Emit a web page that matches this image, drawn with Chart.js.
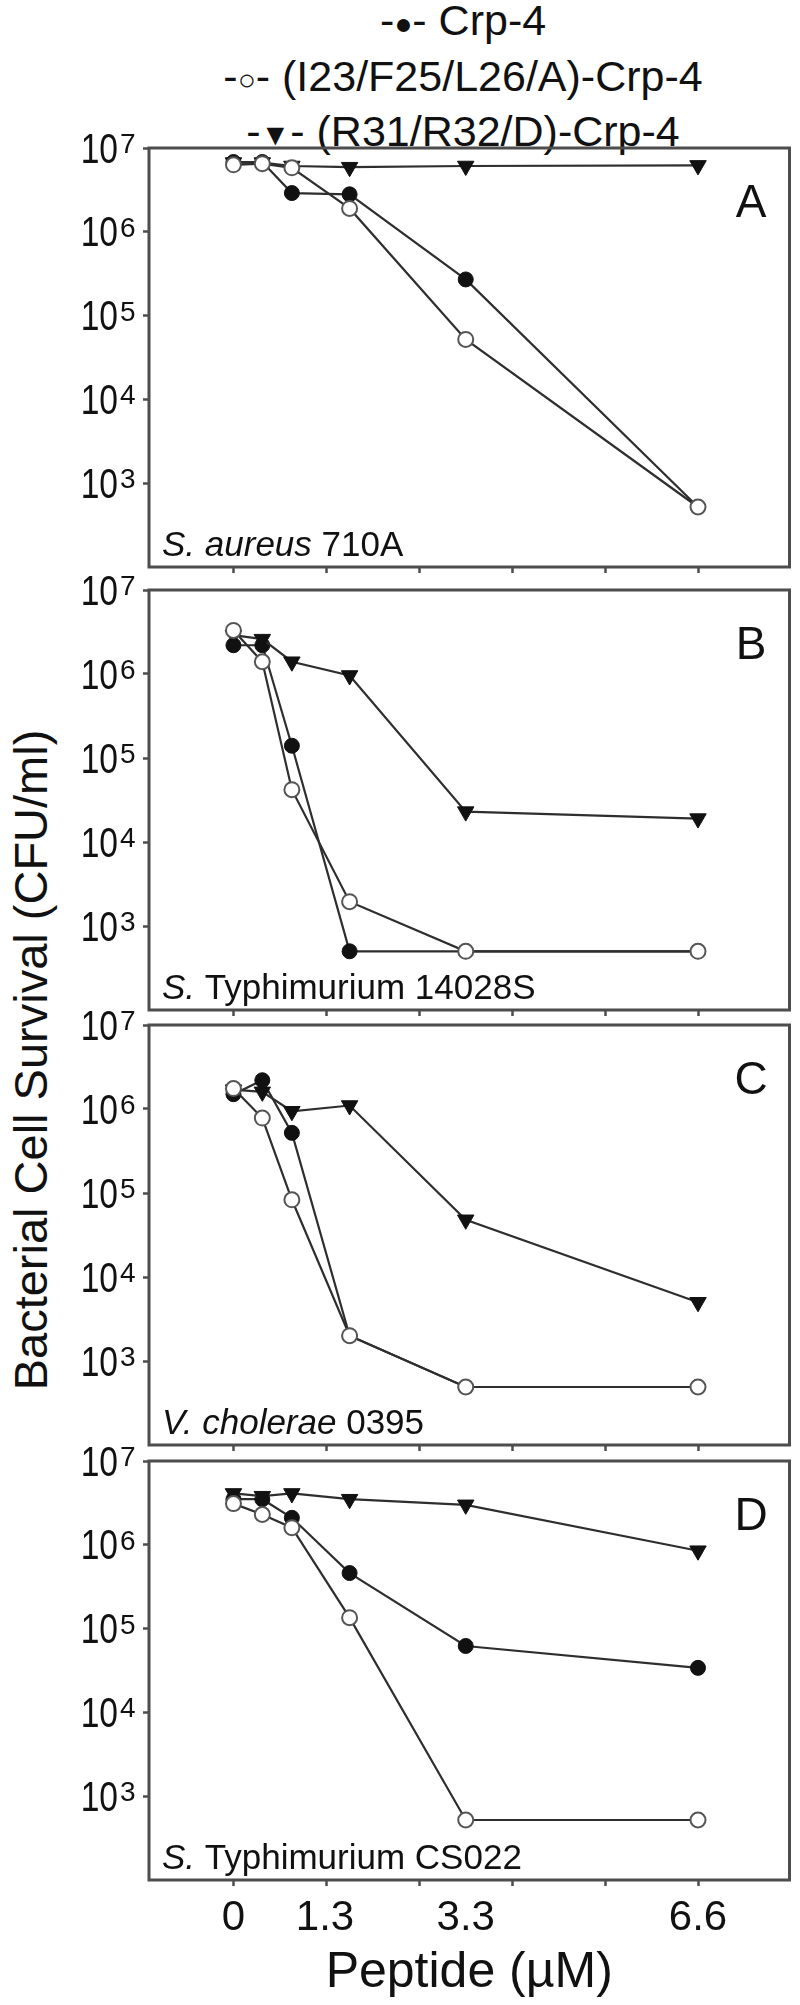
<!DOCTYPE html>
<html>
<head>
<meta charset="utf-8">
<script src="https://cdn.jsdelivr.net/npm/chart.js@4.4.1/dist/chart.umd.min.js"></script>
<style>
  body { margin: 0; width: 800px; height: 2005px; background: #fff; position: relative; overflow: hidden;
         font-family: "Liberation Sans", Arial, sans-serif; color: #111; }
  canvas { position: absolute; left: 0; }
  #legend { position: absolute; left: 63px; top: -6px; width: 800px; text-align: center; font-size: 43px; line-height: 52px; white-space: nowrap; }
  .sym { font-size: 30px; vertical-align: middle; }
  #ytitle { position: absolute; left: 30px; top: 1060px; transform: translate(-50%, -50%) rotate(-90deg);
            white-space: nowrap; font-size: 47px; }
</style>
</head>
<body>
<div id="legend">
  <div>-<span class="sym">●</span>- Crp-4</div>
  <div>-<span class="sym">○</span>- (I23/F25/L26/A)-Crp-4</div>
  <div>-<span class="sym">▼</span>- (R31/R32/D)-Crp-4</div>
</div>
<div id="ytitle">Bacterial Cell Survival (CFU/ml)</div>
<canvas id="panelA"></canvas>
<canvas id="panelB"></canvas>
<canvas id="panelC"></canvas>
<canvas id="panelD"></canvas>
<script>
// peptide concentrations (µM)
const peptide = [0, 0.41, 0.83, 1.65, 3.3, 6.6];
const xTickMarks = [0, 1.32, 2.64, 3.96, 5.28, 6.6];
const xTickLabels = [0, 1.3, 3.3, 6.6];
const yTicks = [1e3, 1e4, 1e5, 1e6, 1e7];
const seriesNames = ['Crp-4', '(I23/F25/L26/A)-Crp-4', '(R31/R32/D)-Crp-4'];

// A - S. aureus 710A
const crp4A = [6.8e6, 6.8e6, 2.9e6, 2.8e6, 2.7e5, 520];
const i23A  = [6.3e6, 6.5e6, 5.8e6, 1.9e6, 5.2e4, 520];
const r31A  = [6.7e6, 6.7e6, 6.1e6, 5.9e6, 6.1e6, 6.2e6];
// B - S. Typhimurium 14028S
const crp4B = [2.2e6, 2.2e6, 1.4e5, 500, 500, 500];
const i23B  = [3.3e6, 1.4e6, 4.2e4, 1.95e3, 500, 500];
const r31B  = [2.9e6, 2.6e6, 1.4e6, 9.6e5, 2.3e4, 1.9e4];
// C - V. cholerae 0395
const crp4C = [1.5e6, 2.2e6, 5.2e5, 2e3, 490, 490];
const i23C  = [1.75e6, 7.8e5, 8.3e4, 2e3, 490, 490];
const r31C  = [1.7e6, 1.6e6, 9.4e5, 1.1e6, 4.8e4, 5e3];
// D - S. Typhimurium CS022
const crp4D = [3.5e6, 3.5e6, 2.1e6, 4.6e5, 6.2e4, 3.4e4];
const i23D  = [3.1e6, 2.3e6, 1.6e6, 1.35e5, 520, 520];
const r31D  = [4.1e6, 3.8e6, 4.1e6, 3.5e6, 3.0e6, 8.5e5];

const FONT = '"Liberation Sans", Arial, sans-serif';
const INK = '#111';
const FRAME = '#4d4d4d';
const LINE = '#2e2e2e';
Chart.defaults.font.family = FONT;
Chart.defaults.color = INK;

const pts = vals => peptide.map((x, i) => ({ x: x, y: vals[i] }));

// frame, y labels (10 + superscript), panel letter, strain name
const panelDecor = {
  id: 'panelDecor',
  beforeDatasetsDraw(chart) {
    const a = chart.chartArea, ctx = chart.ctx;
    ctx.save();
    ctx.strokeStyle = FRAME;
    ctx.lineWidth = 3;
    ctx.strokeRect(a.left, a.top, a.right - a.left, a.bottom - a.top);
    ctx.restore();
  },
  afterDraw(chart, args, opts) {
    const a = chart.chartArea, ctx = chart.ctx, y = chart.scales.y;
    ctx.save();
    ctx.fillStyle = INK;
    yTicks.forEach(v => {
      const py = y.getPixelForValue(v);
      ctx.save();
      ctx.translate(118, py + 3);
      ctx.scale(0.8, 1);
      ctx.font = '42px ' + FONT;
      ctx.textAlign = 'right';
      ctx.textBaseline = 'middle';
      ctx.fillText('10', 0, 0);
      ctx.restore();
      ctx.font = '28px ' + FONT;
      ctx.textAlign = 'left';
      ctx.textBaseline = 'alphabetic';
      ctx.fillText(String(Math.round(Math.log10(v))), 120, py + 5);
    });
    ctx.font = '46px ' + FONT;
    ctx.textAlign = 'center';
    ctx.fillText(opts.letter, 751, a.top + 69);
    ctx.textAlign = 'left';
    ctx.font = 'italic 35px ' + FONT;
    const x0 = a.left + 13, by = a.bottom - 11;
    ctx.fillText(opts.italic, x0, by);
    const w = ctx.measureText(opts.italic).width;
    ctx.font = '35px ' + FONT;
    ctx.fillText(opts.rest, x0 + w, by);
    ctx.restore();
  }
};

function makePanel(id, top, bottom, letter, italic, rest, crp, mutA, mutB, last) {
  const padTop = 30;
  const axisH = last ? 125 : 12;
  const canvas = document.getElementById(id);
  canvas.width = 800;
  canvas.height = bottom - top + padTop + axisH;
  canvas.style.top = (top - padTop) + 'px';

  const ticksX = last ? [0, 1.3, 1.32, 2.64, 3.3, 3.96, 5.28, 6.6] : xTickMarks;

  new Chart(canvas, {
    type: 'line',
    data: {
      datasets: [
        { label: seriesNames[0], data: pts(crp), order: 3,
          borderColor: LINE, borderWidth: 2.2, pointStyle: 'circle', pointRadius: 7.5,
          pointBackgroundColor: '#111', pointBorderColor: '#111', pointBorderWidth: 1 },
        { label: seriesNames[1], data: pts(mutA), order: 1,
          borderColor: LINE, borderWidth: 2.2, pointStyle: 'circle', pointRadius: 7.5,
          pointBackgroundColor: '#fff', pointBorderColor: '#555', pointBorderWidth: 2 },
        { label: seriesNames[2], data: pts(mutB), order: 2,
          borderColor: LINE, borderWidth: 2.2, pointStyle: 'triangle', pointRotation: 180, pointRadius: 9.5,
          pointBackgroundColor: '#111', pointBorderColor: '#111', pointBorderWidth: 1 }
      ]
    },
    options: {
      responsive: false,
      animation: false,
      devicePixelRatio: 1,
      layout: { padding: { top: padTop, right: 8, left: 0, bottom: 0 } },
      plugins: {
        legend: { display: false },
        tooltip: { enabled: false },
        panelDecor: { letter: letter, italic: italic, rest: rest }
      },
      elements: { line: { tension: 0 } },
      scales: {
        x: {
          type: 'linear', min: -1.2, max: 7.9,
          afterBuildTicks: s => { s.ticks = ticksX.map(v => ({ value: v })); },
          afterFit: s => { s.height = axisH; },
          border: { display: false },
          grid: { drawOnChartArea: false, drawTicks: true, tickLength: 6, tickWidth: 2.5,
                  tickColor: c => (c.tick && xTickMarks.includes(c.tick.value)) ? FRAME : 'rgba(0,0,0,0)' },
          ticks: {
            display: last, autoSkip: false, maxRotation: 0, minRotation: 0, padding: 7,
            font: { size: 42 }, color: INK,
            callback: v => xTickLabels.includes(v) ? String(v) : ''
          },
          title: { display: last, text: 'Peptide (µM)', font: { size: 50 }, color: INK,
                   padding: { top: 0, bottom: 2 } }
        },
        y: {
          type: 'logarithmic', min: 100, max: 1e7,
          afterBuildTicks: s => { s.ticks = yTicks.map(v => ({ value: v })); },
          afterFit: s => { s.width = 149; },
          border: { display: false },
          grid: { drawOnChartArea: false, drawTicks: true, tickLength: 6, tickWidth: 2.5, tickColor: FRAME },
          ticks: { display: false }
        }
      }
    },
    plugins: [panelDecor]
  });
}

makePanel('panelA', 148, 567, 'A', 'S. aureus', ' 710A', crp4A, i23A, r31A, false);
makePanel('panelB', 590, 1010, 'B', 'S.', ' Typhimurium 14028S', crp4B, i23B, r31B, false);
makePanel('panelC', 1025, 1445, 'C', 'V. cholerae', ' 0395', crp4C, i23C, r31C, false);
makePanel('panelD', 1461, 1880, 'D', 'S.', ' Typhimurium CS022', crp4D, i23D, r31D, true);
</script>
</body>
</html>
